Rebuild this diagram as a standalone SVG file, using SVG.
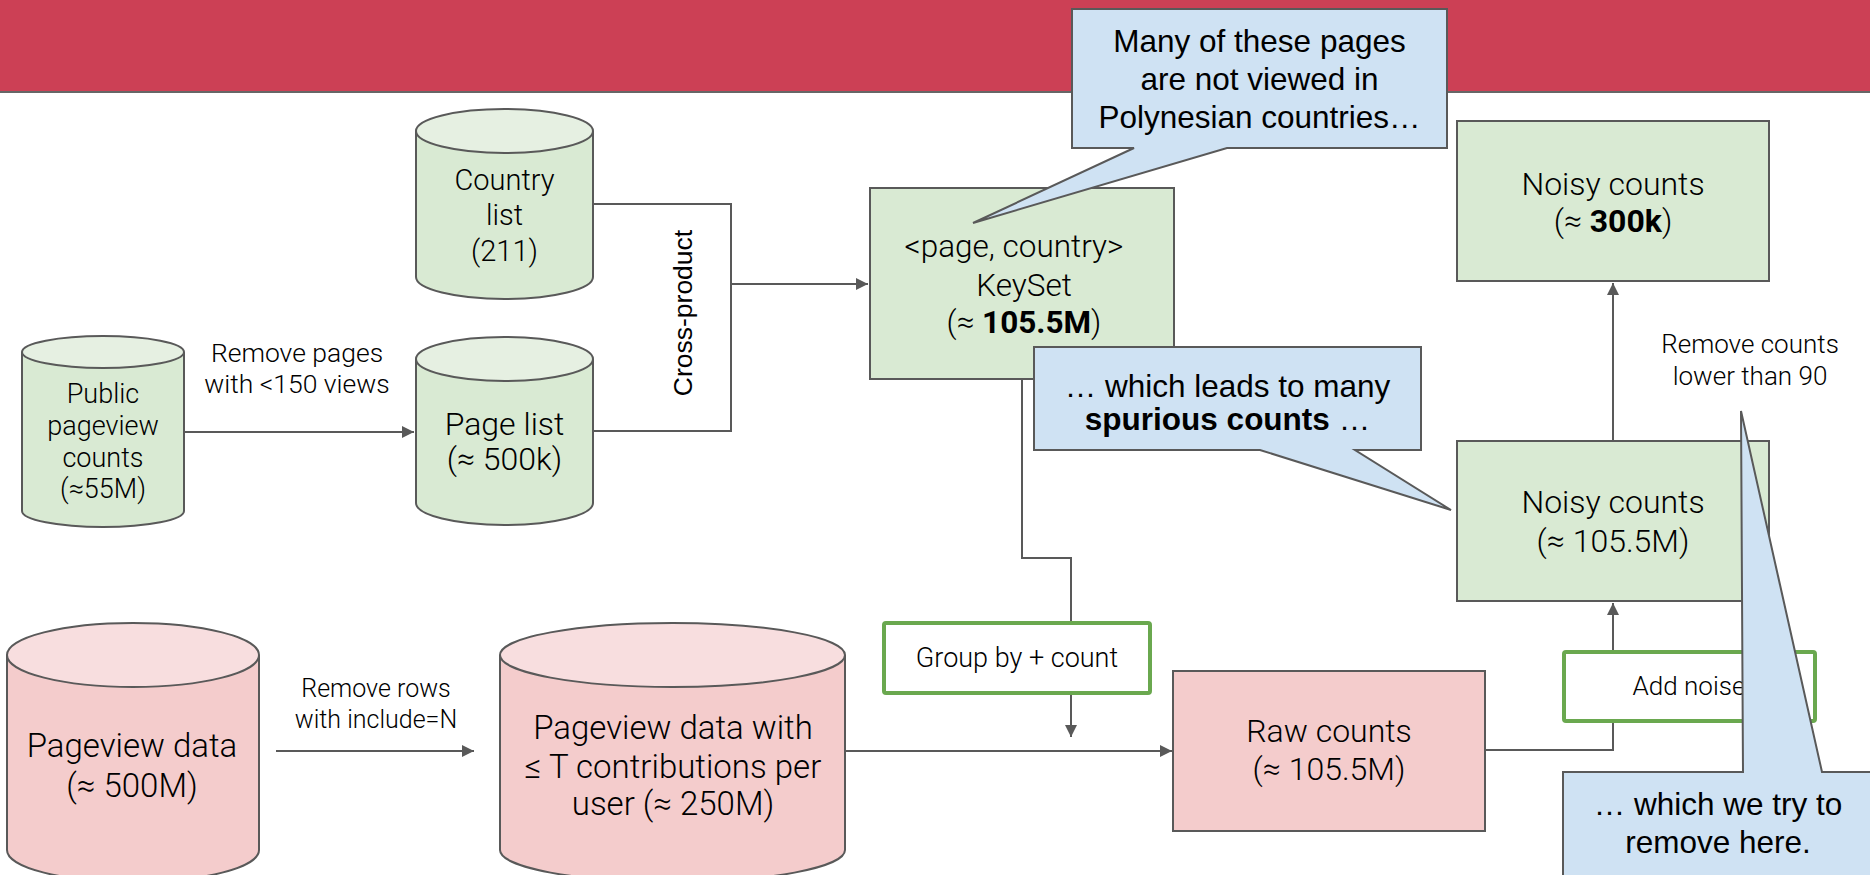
<svg xmlns="http://www.w3.org/2000/svg" width="1870" height="875" viewBox="0 0 1870 875">
<defs>
<style>
.ln{fill:none;stroke:#595959;stroke-width:2}
.box{stroke:#595959;stroke-width:2}
.g{fill:#d9ead3}
.gt{fill:#e6f0e2}
.p{fill:#f4cccc}
.pt{fill:#f8dedf}
.op{fill:#ffffff;stroke:#6aa84f;stroke-width:4}
.call{fill:#cfe2f3;stroke:#595959;stroke-width:2;stroke-linejoin:miter}
.t{font-family:Roboto,"Liberation Sans",sans-serif;font-weight:300;fill:#000;text-anchor:middle}
.a{font-family:"Liberation Sans",Arial,sans-serif;fill:#000;text-anchor:middle}
</style>
<marker id="arr" viewBox="0 0 10 10" refX="10" refY="5" markerWidth="6" markerHeight="6" markerUnits="strokeWidth" orient="auto">
<path d="M0,0 L10,5 L0,10 z" fill="#595959"/>
</marker>
</defs>

<g id="banner">
<rect x="0" y="0" width="1870" height="92" fill="#cc4055"/>
<line x1="0" y1="92" x2="1870" y2="92" stroke="#666" stroke-width="2"/>
</g>

<g id="connectors">
<path class="ln" d="M184,432 H414" marker-end="url(#arr)"/>
<path class="ln" d="M593,204 H731 V431 H593"/>
<path class="ln" d="M731,284 H868" marker-end="url(#arr)"/>
<path class="ln" d="M1022,379 V558 H1071 V622"/>
<path class="ln" d="M1071,694 V737" marker-end="url(#arr)"/>
<path class="ln" d="M276,751 H474" marker-end="url(#arr)"/>
<path class="ln" d="M845,751 H1172" marker-end="url(#arr)"/>
<path class="ln" d="M1485,750 H1613 V722"/>
<path class="ln" d="M1613,651 V603" marker-end="url(#arr)"/>
<path class="ln" d="M1613,441 V283" marker-end="url(#arr)"/>
<text class="a" font-size="26.5" transform="translate(692,313) rotate(-90)">Cross-product</text>
<text class="t" font-size="26.5" x="297" y="362">Remove pages</text>
<text class="t" font-size="26.5" x="297" y="393">with &lt;150 views</text>
<text class="t" font-size="25" x="376" y="697">Remove rows</text>
<text class="t" font-size="25" x="376" y="728">with include=N</text>
<text class="t" font-size="26" x="1750" y="353">Remove counts</text>
<text class="t" font-size="26" x="1750" y="385">lower than 90</text>
</g>

<g id="country-list">
<path class="box g" d="M416,131 V277 A88.5,22 0 0 0 593,277 V131"/>
<ellipse class="box gt" cx="504.5" cy="131" rx="88.5" ry="22"/>
<text class="t" font-size="29" x="504.5" y="190">Country</text>
<text class="t" font-size="29" x="504.5" y="225">list</text>
<text class="t" font-size="29" x="504.5" y="261">(211)</text>
</g>

<g id="public-pageview-counts">
<path class="box g" d="M22,352 V511 A81,16 0 0 0 184,511 V352"/>
<ellipse class="box gt" cx="103" cy="352" rx="81" ry="16"/>
<text class="t" font-size="27" x="103" y="403">Public</text>
<text class="t" font-size="27" x="103" y="435">pageview</text>
<text class="t" font-size="27" x="103" y="467">counts</text>
<text class="t" font-size="27" x="103" y="498">(≈55M)</text>
</g>

<g id="page-list">
<path class="box g" d="M416,359 V503 A88.5,22 0 0 0 593,503 V359"/>
<ellipse class="box gt" cx="504.5" cy="359" rx="88.5" ry="22"/>
<text class="t" font-size="32" x="504.5" y="435">Page list</text>
<text class="t" font-size="32" x="504.5" y="470">(≈ 500k)</text>
</g>

<g id="keyset">
<rect class="box g" x="870" y="188" width="304" height="191"/>
<text class="t" font-size="31.5" x="1014" y="257">&lt;page, country&gt;</text>
<text class="t" font-size="31.5" x="1024" y="296">KeySet</text>
<text class="t" font-size="31.5" x="1024" y="333">(≈ <tspan font-weight="700">105.5M</tspan>)</text>
</g>

<g id="noisy-counts-300k">
<rect class="box g" x="1457" y="121" width="312" height="160"/>
<text class="t" font-size="32" x="1613" y="195">Noisy counts</text>
<text class="t" font-size="32" x="1613" y="232">(≈ <tspan font-weight="700">300k</tspan>)</text>
</g>

<g id="noisy-counts-105">
<rect class="box g" x="1457" y="441" width="312" height="160"/>
<text class="t" font-size="32" x="1613" y="513">Noisy counts</text>
<text class="t" font-size="32" x="1613" y="552">(≈ 105.5M)</text>
</g>

<g id="pageview-data">
<path class="box p" d="M7,655 V850 A126,32 0 0 0 259,850 V655"/>
<ellipse class="box pt" cx="133" cy="655" rx="126" ry="32"/>
<text class="t" font-size="33" x="132" y="757">Pageview data</text>
<text class="t" font-size="33" x="132" y="797">(≈ 500M)</text>
</g>

<g id="pageview-data-t">
<path class="box p" d="M500,655 V850 A172.5,32 0 0 0 845,850 V655"/>
<ellipse class="box pt" cx="672.5" cy="655" rx="172.5" ry="32"/>
<text class="t" font-size="33" x="673" y="739">Pageview data with</text>
<text class="t" font-size="33" x="673" y="778">≤ T contributions per</text>
<text class="t" font-size="33" x="673" y="815">user (≈ 250M)</text>
</g>

<g id="group-by-count">
<rect class="op" x="884" y="623" width="266" height="70" rx="2"/>
<text class="t" font-size="27" x="1017" y="667">Group by + count</text>
</g>

<g id="raw-counts">
<rect class="box p" x="1173" y="671" width="312" height="160"/>
<text class="t" font-size="32" x="1329" y="742">Raw counts</text>
<text class="t" font-size="32" x="1329" y="780">(≈ 105.5M)</text>
</g>

<g id="add-noise">
<rect class="op" x="1564" y="652" width="251" height="69" rx="2"/>
<text class="t" font-size="26" x="1689" y="695">Add noise</text>
</g>

<g id="callout-polynesian">
<path class="call" d="M1072,9 H1447 V148 H1227 L973,223 L1134,148 H1072 Z"/>
<text class="a" font-size="31.5" x="1259.5" y="52">Many of these pages</text>
<text class="a" font-size="31.5" x="1259.5" y="90">are not viewed in</text>
<text class="a" font-size="31.5" x="1259.5" y="128">Polynesian countries…</text>
</g>

<g id="callout-spurious">
<path class="call" d="M1034,347 H1421 V450 H1355 L1451,510 L1260,450 H1034 Z"/>
<text class="a" font-size="31.5" x="1227.5" y="397">… which leads to many</text>
<text class="a" font-size="31.5" x="1227.5" y="430"><tspan font-weight="700">spurious counts</tspan> …</text>
</g>

<g id="callout-remove">
<path class="call" d="M1563,880 V772 H1743 L1741,411 L1822,772 H1875 V880 Z"/>
<text class="a" font-size="31.5" x="1718" y="815">… which we try to</text>
<text class="a" font-size="31.5" x="1718" y="853">remove here.</text>
</g>
</svg>
